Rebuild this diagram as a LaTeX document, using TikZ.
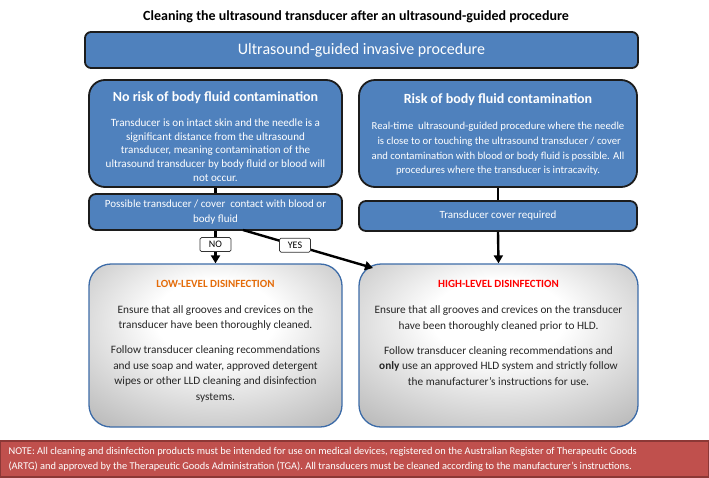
\documentclass[tikz,border=0pt]{standalone}
\usepackage{fontspec}
\setmainfont{Carlito}
\usetikzlibrary{arrows.meta}
\definecolor{boxblue}{HTML}{4F81BD}
\definecolor{boxedge}{HTML}{1C1C1C}
\definecolor{grayedge}{HTML}{3D6CA8}
\definecolor{notered}{HTML}{C0504D}
\definecolor{noteedge}{HTML}{8C3836}
\definecolor{lldorange}{HTML}{E46C0A}
\definecolor{hldred}{HTML}{FF0000}
\pgfdeclareradialshading{grayrad}{\pgfpoint{0bp}{10bp}}{color(0bp)=(white); color(12bp)=(white); color(50bp)=(black!40); color(75bp)=(black!52)}
\tikzset{
  bluebox/.style={draw=boxedge, line width=1.8pt, fill=boxblue, rounded corners=16pt, inner sep=0pt},
  smallbox/.style={draw=boxedge, line width=1.8pt, fill=boxblue, rounded corners=7pt, inner sep=0pt},
  graybox/.style={draw=grayedge, line width=1.3pt, shading=grayrad, rounded corners=22pt, inner sep=0pt},
  conn/.style={line width=2.4pt, black},
  arr/.style={conn, -{Triangle[length=8pt,width=9pt]}},
  lbl/.style={draw=black!80, line width=0.7pt, fill=white, rounded corners=1.5pt, minimum width=31pt, minimum height=14pt, inner sep=0pt, font=\fontsize{10}{11}\selectfont},
  wtitle/.style={text=white, font=\fontsize{14}{16}\bfseries\selectfont},
  wbody/.style={text=white, align=center, font=\fontsize{10.6}{13.6}\selectfont},
  gbody/.style={text=black!85, align=center, font=\fontsize{11.3}{15.5}\selectfont},
}
\begin{document}
\begin{tikzpicture}[x=1pt,y=-1pt]
\useasboundingbox (0,0) rectangle (709,477);
\node (title) at (356,17) {\fontsize{14}{16}\bfseries\selectfont Cleaning the ultrasound transducer after an ultrasound-guided procedure};

\node[bluebox, rounded corners=6pt, minimum width=553pt, minimum height=36pt] (top) at (361.5,50) {};
\node[text=white, font=\fontsize{16}{18}\selectfont] (toptext) at (361.5,50) {Ultrasound-guided invasive procedure};

\node[bluebox, minimum width=253pt, minimum height=107pt] (lbox) at (215.5,133.5) {};
\node[wtitle] (ltitle) at (215.5,98) {No risk of body fluid contamination};
\node[wbody, font=\fontsize{11.1}{13.6}\selectfont] (lbody) at (215.5,150) {Transducer is on intact skin and the needle is a\\significant distance from the ultrasound\\transducer, meaning contamination of the\\ultrasound transducer by body fluid or blood will\\not occur.};

\node[bluebox, minimum width=278pt, minimum height=107pt] (rbox) at (498,133.5) {};
\node[wtitle] (rtitle) at (498,100) {Risk of body fluid contamination};
\node[wbody, font=\fontsize{10.7}{14.6}\selectfont] (rbody) at (498,149) {Real-time\ \ ultrasound-guided procedure where the needle\\\ is close to or touching the ultrasound transducer / cover\\and contamination with blood or body fluid is possible. All\\procedures where the transducer is intracavity.};

\node[smallbox, minimum width=253pt, minimum height=36pt] (lsmall) at (215.5,212) {};
\node[wbody, font=\fontsize{11}{15}\selectfont] (lsmalltext) at (215.5,212.5) {Possible transducer / cover\ \ contact with blood or\\body fluid};

\node[smallbox, minimum width=278pt, minimum height=30pt] (rsmall) at (498,216) {};
\node[wbody, font=\fontsize{11}{13}\selectfont] (rsmalltext) at (498,216) {Transducer cover required};

\node[graybox, minimum width=253pt, minimum height=163pt] (lgray) at (215.5,345.5) {};
\node[text=lldorange, font=\fontsize{11}{13}\bfseries\selectfont] (lgtitle) at (215.5,284) {LOW-LEVEL DISINFECTION};
\node[gbody] (lgbody) at (215.5,353.5) {Ensure that all grooves and crevices on the\\transducer have been thoroughly cleaned.\\[9.5pt]Follow transducer cleaning recommendations\\and use soap and water, approved detergent\\wipes or other LLD cleaning and disinfection\\systems.};

\node[graybox, minimum width=279pt, minimum height=163pt] (rgray) at (498.5,345.5) {};
\node[text=hldred, font=\fontsize{11}{13}\bfseries\selectfont] (rgtitle) at (498.5,284) {HIGH-LEVEL DISINFECTION};
\node[gbody] (rgbody) at (498.5,345.5) {Ensure that all grooves and crevices on the transducer\\have been thoroughly cleaned prior to HLD.\\[9.5pt]Follow transducer cleaning recommendations and\\\textbf{only} use an approved HLD system and strictly follow\\the manufacturer’s instructions for use.};

\node[draw=noteedge, line width=1.2pt, fill=notered, minimum width=708pt, minimum height=36pt, inner sep=0pt] (note) at (354.5,459) {};
\node[text=white, anchor=west, align=left, font=\fontsize{10.4}{15}\selectfont] (notetext) at (5,459.5) {NOTE: All cleaning and disinfection products must be intended for use on medical devices, registered on the Australian Register of Therapeutic Goods\\(ARTG) and approved by the Therapeutic Goods Administration (TGA). All transducers must be cleaned according to the manufacturer’s instructions.};

\coordinate (yesstart) at (243,230);
\coordinate (yesend) at (373,268);

\draw[conn] (lbox.south) -- (lsmall.north);
\draw[conn] (rbox.south) -- (rsmall.north);
\draw[arr] (lsmall.south) -- (lgray.north) node[lbl, pos=0.42] (no) {NO};
\draw[arr] (yesstart) -- (yesend) node[lbl, pos=0.4] (yes) {YES};
\draw[arr] (rsmall.south) -- (rgray.north);
\end{tikzpicture}
\end{document}
